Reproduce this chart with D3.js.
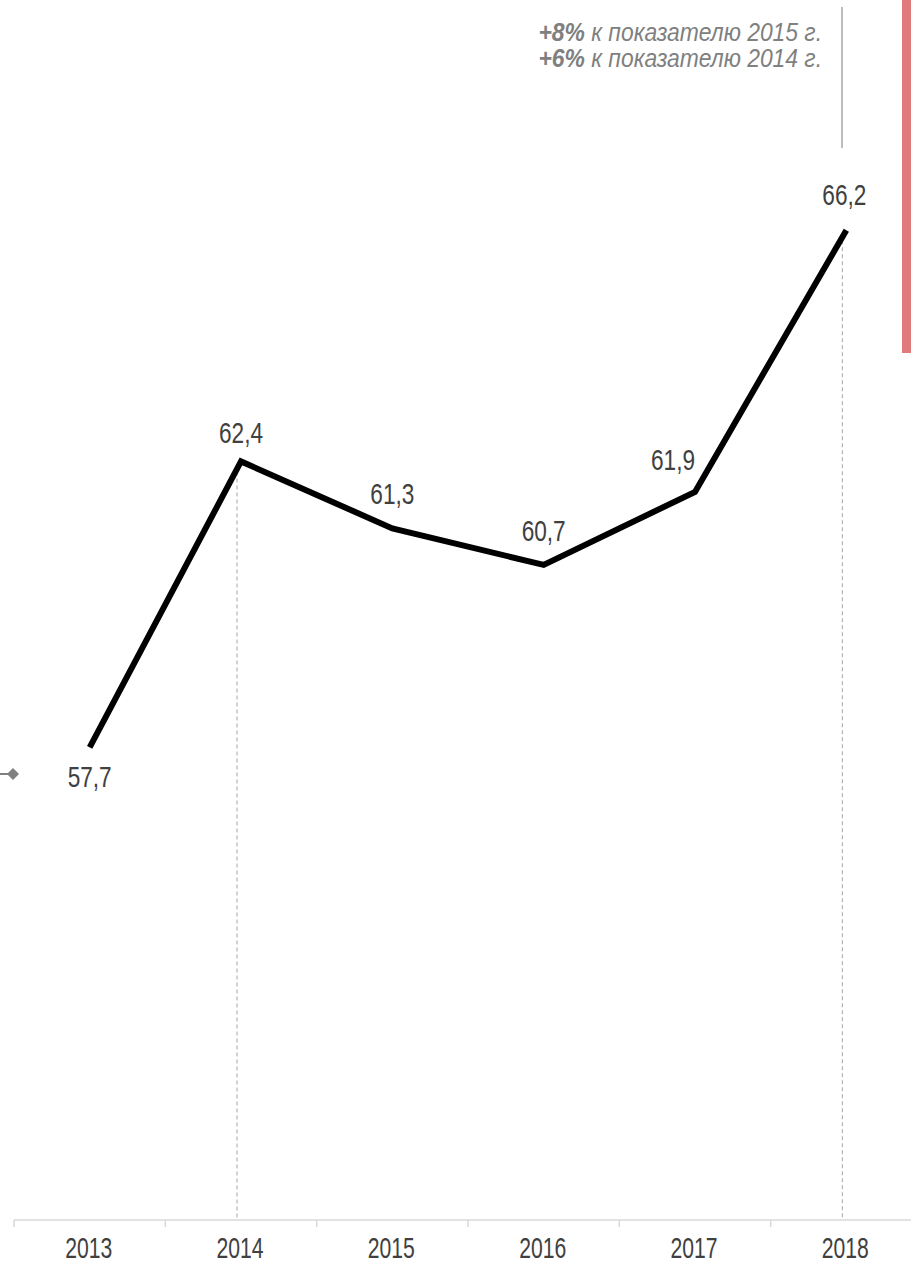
<!DOCTYPE html>
<html>
<head>
<meta charset="utf-8">
<script src="https://cdn.jsdelivr.net/npm/d3@7"></script>
<style>
  body { margin: 0; background: #fff; }
  svg { display: block; }
</style>
</head>
<body>
<div id="chart"></div>
<script>
const years = ["2013", "2014", "2015", "2016", "2017", "2018"];
const values = [57.7, 62.4, 61.3, 60.7, 61.9, 66.2];
const dropYears = ["2014", "2018"];
const notes = [
  { bold: "+8%", rest: " к показателю 2015 г." },
  { bold: "+6%", rest: " к показателю 2014 г." }
];

const W = 911, H = 1264;
const font = "'Liberation Sans', Arial, sans-serif";
const axisY = 1220;

const svg = d3.select("#chart").append("svg")
  .attr("width", W).attr("height", H);

const x = d3.scaleBand().domain(years).range([14, 922]);
const y = d3.scaleLinear().domain([50, 70]).range([1216, -1]);
const cx = d => x(d) + x.bandwidth() / 2;

// red bar on right edge
svg.append("rect").attr("x", 902).attr("y", 0).attr("width", 9).attr("height", 353)
  .attr("fill", "#e07b7b");

// axis
const axis = svg.append("g").attr("transform", `translate(0,${axisY})`);
axis.append("line").attr("x1", 14).attr("x2", W).attr("y1", 0).attr("y2", 0)
  .attr("stroke", "#d9d9d9").attr("stroke-width", 1.5);
axis.selectAll(".tk").data(years).enter().append("line")
  .attr("x1", d => x(d)).attr("x2", d => x(d))
  .attr("y1", 0).attr("y2", 7)
  .attr("stroke", "#d9d9d9").attr("stroke-width", 1.5);
axis.selectAll(".lb").data(years).enter().append("text")
  .attr("transform", d => `translate(${cx(d) - 1},38) scale(0.73,1)`)
  .attr("text-anchor", "middle")
  .style("font-family", font).style("font-size", "29px").style("fill", "#404040")
  .text(d => d);

// dashed drop lines
svg.selectAll(".drop").data(dropYears).enter().append("line")
  .attr("x1", d => cx(d) - 4).attr("x2", d => cx(d) - 4)
  .attr("y1", d => y(values[years.indexOf(d)]) + 10)
  .attr("y2", axisY)
  .attr("stroke", "#a6a6a6").attr("stroke-width", 1).attr("stroke-dasharray", "4,3");

// line
const line = d3.line().x((d, i) => cx(years[i])).y(d => y(d));
svg.append("path").datum(values)
  .attr("d", line)
  .attr("fill", "none").attr("stroke", "#000").attr("stroke-width", 6)
  .attr("stroke-linejoin", "miter");

// value labels (offsets from the point)
const labDx = [0, 0, 0, 0, -22, -2];
const labDy = [40, -18, -24, -24, -22, -25];
svg.selectAll(".val").data(values).enter().append("text")
  .attr("transform", (d, i) => `translate(${cx(years[i]) + labDx[i]},${y(d) + labDy[i]}) scale(0.78,1)`)
  .attr("text-anchor", "middle")
  .style("font-family", font).style("font-size", "29px").style("fill", "#404040")
  .text(d => d.toFixed(1).replace(".", ","));

// legend marker (partially cut)
svg.append("line").attr("x1", 0).attr("x2", 12).attr("y1", 774).attr("y2", 774)
  .attr("stroke", "#808080").attr("stroke-width", 2);
svg.append("path").attr("d", d3.symbol(d3.symbolSquare, 72)())
  .attr("transform", "translate(13,774) rotate(45)").attr("fill", "#808080");

// annotation
svg.append("line").attr("x1", 842).attr("x2", 842).attr("y1", 7).attr("y2", 148)
  .attr("stroke", "#a6a6a6").attr("stroke-width", 1.5);
const ann = svg.selectAll(".ann").data(notes).enter().append("text")
  .attr("transform", (d, i) => `translate(822,${41 + i * 26}) scale(0.88,1)`)
  .attr("text-anchor", "end")
  .style("font-family", font).style("font-size", "26px").style("font-style", "italic")
  .style("fill", "#808080");
ann.append("tspan").style("font-weight", "bold").text(d => d.bold);
ann.append("tspan").text(d => d.rest);
</script>
</body>
</html>
